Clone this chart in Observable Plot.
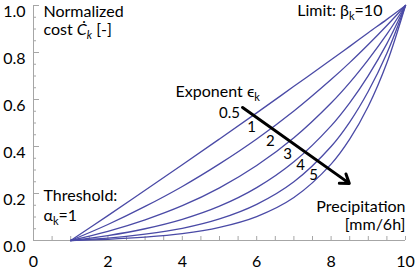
<!DOCTYPE html>
<html><head><meta charset="utf-8">
<script src="https://cdn.jsdelivr.net/npm/d3@7"></script>
<script src="https://cdn.jsdelivr.net/npm/@observablehq/plot@0.6"></script>
<style>
html,body{margin:0;padding:0;background:#fff;}
svg{display:block;}
</style>
</head><body><div id="chart"></div>
<script>
// ---- data ----
const precipitation = [1, 2, 3, 4, 5, 6, 7, 8, 8.5, 9, 9.5, 10];
const exponentLabels = ["0.5", "1", "2", "3", "4", "5"];
const cost05 = [0, 0.106, 0.214, 0.322, 0.432, 0.543, 0.656, 0.769, 0.826, 0.884, 0.941, 1];
const cost1  = [0, 0.068, 0.145, 0.230, 0.326, 0.432, 0.551, 0.685, 0.757, 0.834, 0.915, 1];
const cost2  = [0, 0.039, 0.088, 0.148, 0.224, 0.319, 0.437, 0.585, 0.672, 0.770, 0.878, 1];
const cost3  = [0, 0.021, 0.050, 0.090, 0.146, 0.225, 0.335, 0.488, 0.586, 0.702, 0.838, 1];
const cost4  = [0, 0.010, 0.027, 0.052, 0.092, 0.154, 0.250, 0.400, 0.504, 0.635, 0.797, 1];
const cost5  = [0, 0.005, 0.014, 0.029, 0.056, 0.102, 0.183, 0.325, 0.431, 0.571, 0.756, 1];
const xTickLabels = [0, 2, 4, 6, 8, 10];
const yTickLabels = [0, 0.2, 0.4, 0.6, 0.8, 1.0];
const xMinorTicks = [0,0.5,1,1.5,2,2.5,3,3.5,4,4.5,5,5.5,6,6.5,7,7.5,8,8.5,9,9.5,10];
const yMinorTicks = [0.05,0.1,0.15,0.25,0.3,0.35,0.45,0.5,0.55,0.65,0.7,0.75,0.85,0.9,0.95];

const series = [cost05, cost1, cost2, cost3, cost4, cost5];
const lineData = series.flatMap((vals, s) =>
  vals.map((v, i) => ({x: precipitation[i], y: v, eps: exponentLabels[s]})));

// ---- annotation anchors (data units) ----
const expLabelPos = [
  {x: 5.27, y: 0.540}, {x: 5.86, y: 0.481}, {x: 6.37, y: 0.421},
  {x: 6.83, y: 0.366}, {x: 7.18, y: 0.319}, {x: 7.53, y: 0.277}
].map((d, i) => ({...d, label: exponentLabels[i]}));
const arrowData = [{x1: 5.62, y1: 0.566, x2: 8.49, y2: 0.243}];

// rich-text annotations: segments (sub = subscript, it = italic)
const notes = [
  {x: 0.269, y: 0.974, anchor: "start", seg: [{t: "Normalized"}]},
  {x: 0.269, y: 0.898, anchor: "start", seg: [{t: "cost "}, {t: "Ċ", it: true}, {t: "k", sub: true, it: true}, {t: " [-]"}]},
  {x: 9.38, y: 0.979, anchor: "end", seg: [{t: "Limit: β"}, {t: "k", sub: true}, {t: "=10"}]},
  {x: 3.82, y: 0.634, anchor: "start", seg: [{t: "Exponent ϵ"}, {t: "k", sub: true}]},
  {x: 0.269, y: 0.191, anchor: "start", seg: [{t: "Threshold:"}]},
  {x: 0.269, y: 0.106, anchor: "start", seg: [{t: "α"}, {t: "k", sub: true}, {t: "=1"}]},
  {x: 10, y: 0.145, anchor: "end", seg: [{t: "Precipitation"}]},
  {x: 10, y: 0.068, anchor: "end", seg: [{t: "[mm/6h]"}]}
].map(d => ({...d, plain: d.seg.map(s => s.t).join("")}));

const FONT = "Lato, 'Open Sans', sans-serif";
const AX = "#a6a6a6";
const LINE = "#4a4aa6";

const chart = Plot.plot({
  width: 416,
  height: 270,
  marginLeft: 33,
  marginRight: 11,
  marginTop: 5,
  marginBottom: 30,
  x: {domain: [0, 10], axis: null},
  y: {domain: [0, 1], axis: null},
  style: {fontFamily: FONT, background: "white", color: "black", overflow: "visible"},
  marks: [
    Plot.ruleY([0], {stroke: AX, strokeWidth: 1}),
    Plot.ruleX([0], {stroke: AX, strokeWidth: 1}),
    Plot.tickX(xMinorTicks, {x: d => d, stroke: AX, insetTop: 231}),
    Plot.tickY(yMinorTicks, {y: d => d, stroke: AX, insetRight: 369}),
    Plot.tickY(yTickLabels, {y: d => d, stroke: AX, insetRight: 366}),
    Plot.text(xTickLabels, {x: d => d, y: 0, text: d => String(d), dy: 21, fontSize: 16, fill: "black"}),
    Plot.text(yTickLabels, {x: 0, y: d => d, text: d => d3.format(".1f")(d), dx: -8, dy: 6, textAnchor: "end", fontSize: 16, fill: "black"}),
    Plot.line(lineData, {x: "x", y: "y", z: "eps", stroke: LINE, strokeWidth: 1.3, curve: "catmull-rom"}),
    Plot.arrow(arrowData, {x1: "x1", y1: "y1", x2: "x2", y2: "y2", stroke: "black", strokeWidth: 3, headLength: 5, headAngle: 70}),
    Plot.text(expLabelPos, {x: "x", y: "y", text: "label", fontSize: 15, fill: "black"}),
    Plot.text(notes, {x: "x", y: "y", text: "plain", textAnchor: "start", fontSize: 16, fill: "black"})
  ]
});

// turn plain annotation texts into rich text (italic / subscript segments)
d3.select(chart).selectAll("text").each(function () {
  const note = notes.find(n => n.plain === this.textContent);
  if (!note) return;
  const el = d3.select(this);
  el.text(null).attr("text-anchor", note.anchor);
  let shifted = false;
  for (const s of note.seg) {
    const ts = el.append("tspan").text(s.t);
    if (s.it) ts.attr("font-style", "italic");
    if (s.sub) { ts.attr("font-size", 11).attr("dy", 4); shifted = true; }
    else if (shifted) { ts.attr("dy", -4); shifted = false; }
  }
});
document.getElementById("chart").appendChild(chart);
</script>
</body></html>
